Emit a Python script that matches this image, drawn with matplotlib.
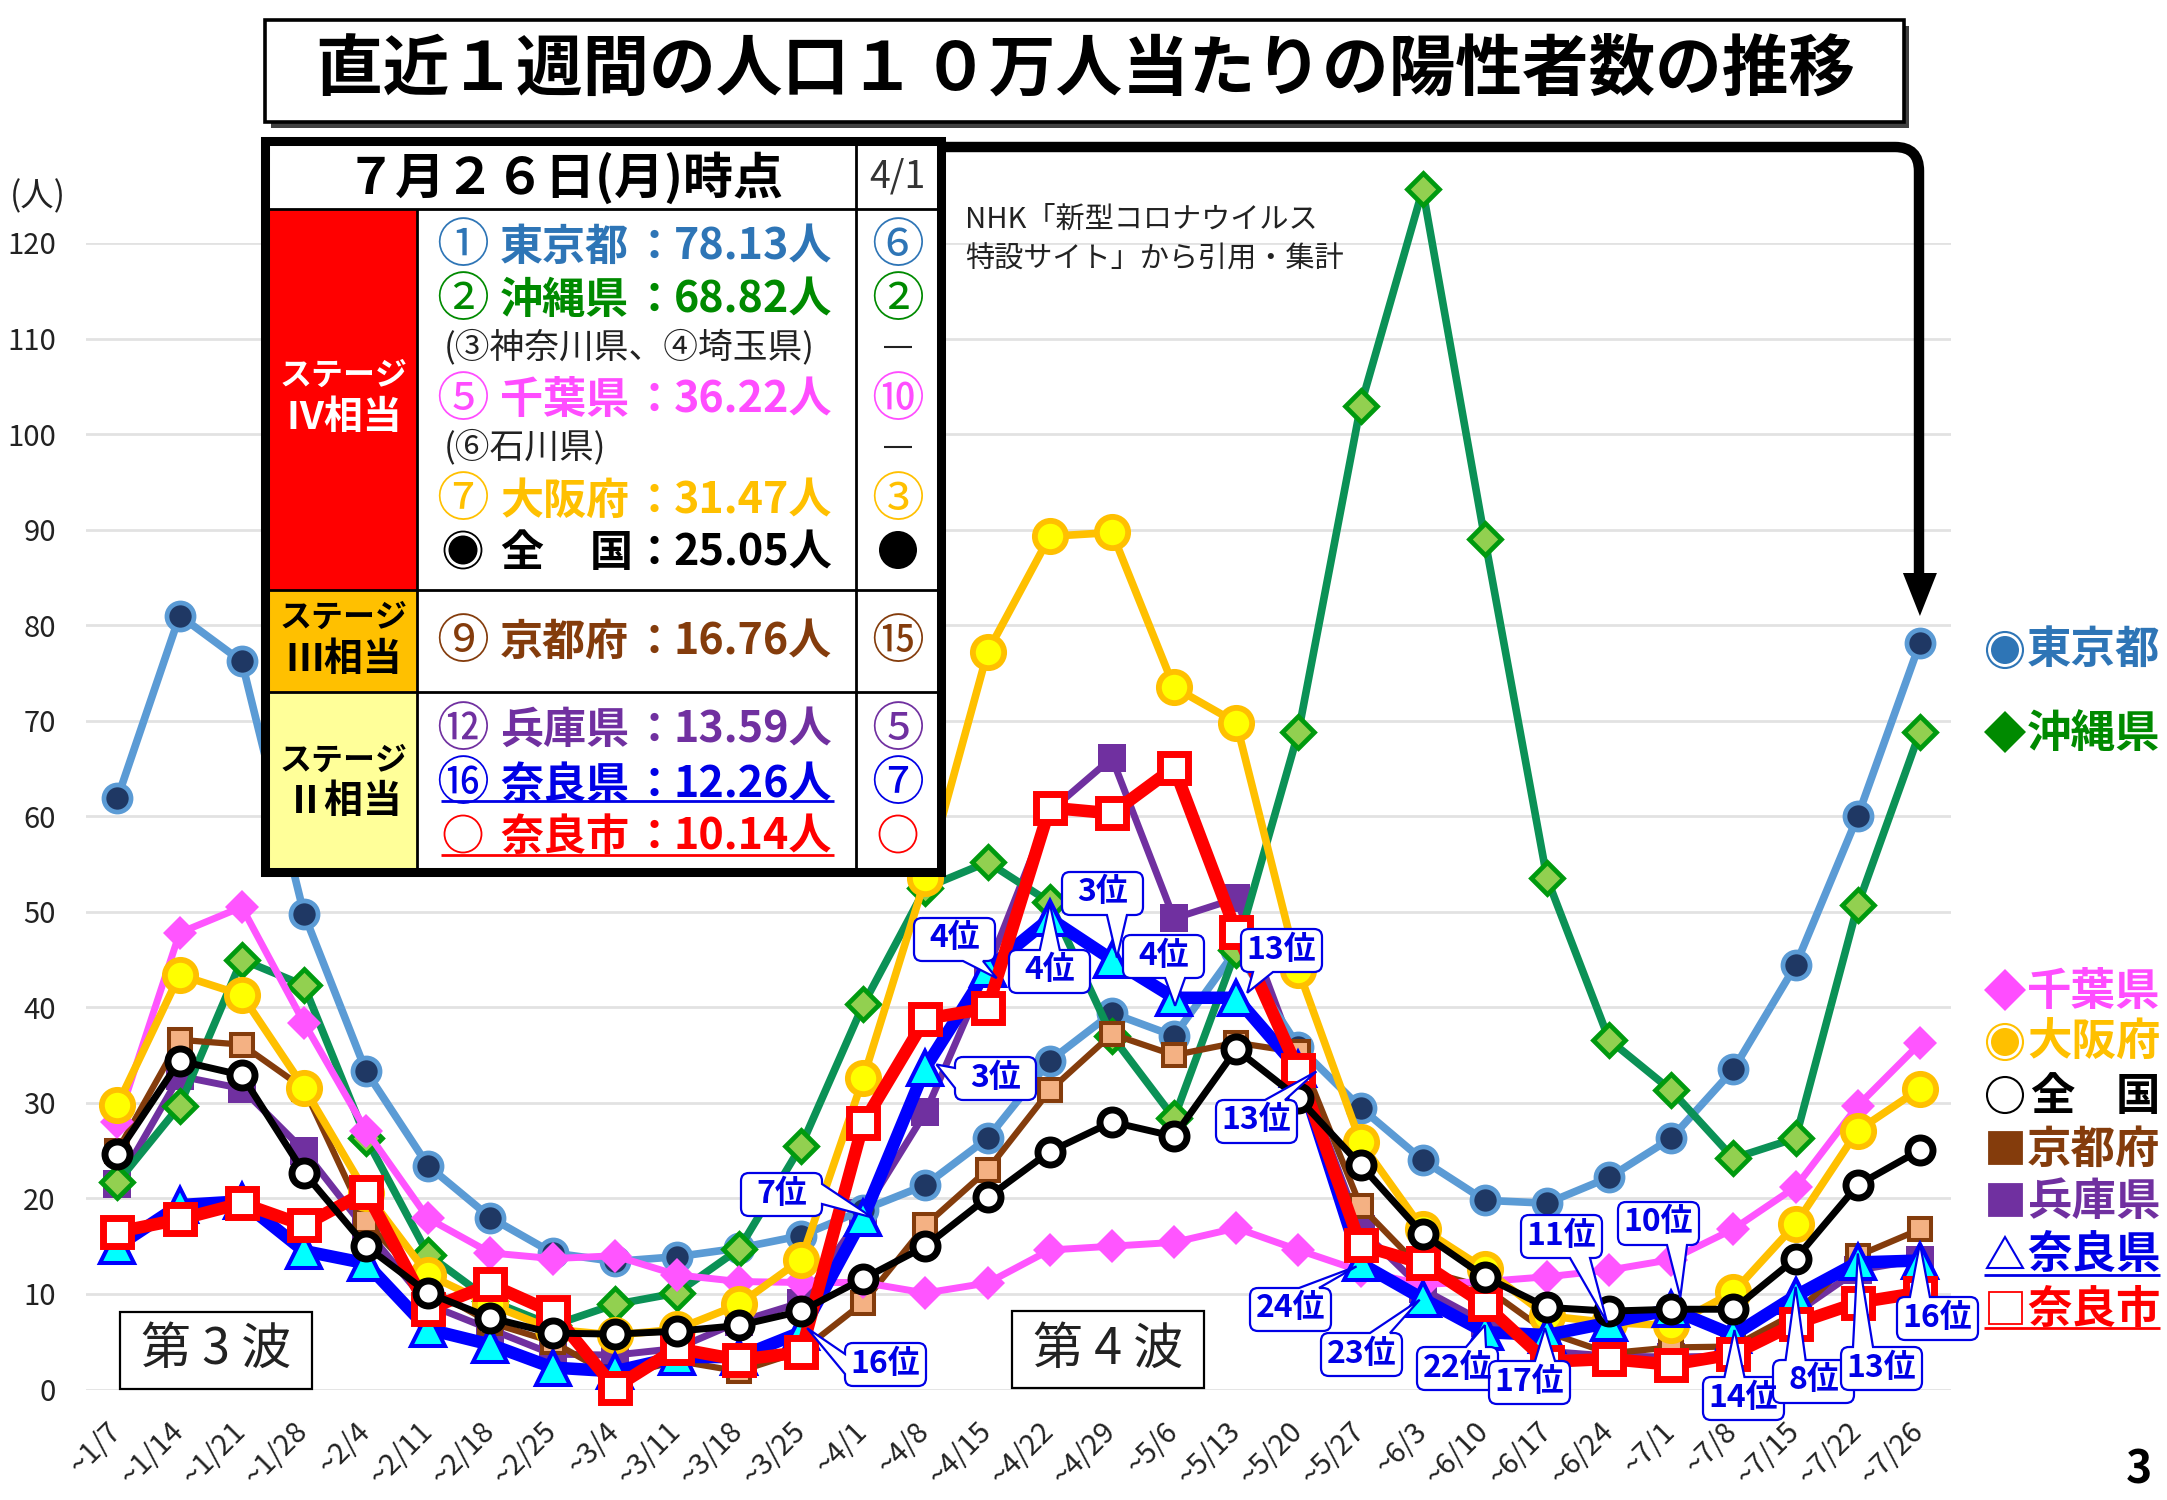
import matplotlib
matplotlib.use('Agg')
import matplotlib.pyplot as plt
from matplotlib.patches import Rectangle, Circle, Polygon, PathPatch
from matplotlib.path import Path

plt.rcParams['font.family'] = ['Noto Sans CJK JP', 'DejaVu Sans']

weeks = ['~1/7', '~1/14', '~1/21', '~1/28', '~2/4', '~2/11', '~2/18', '~2/25', '~3/4', '~3/11',
         '~3/18', '~3/25', '~4/1', '~4/8', '~4/15', '~4/22', '~4/29', '~5/6', '~5/13', '~5/20',
         '~5/27', '~6/3', '~6/10', '~6/17', '~6/24', '~7/1', '~7/8', '~7/15', '~7/22', '~7/26']

tokyo = [61.9, 81.0, 76.2, 49.8, 33.3, 23.4, 18.0, 14.3, 13.4, 13.9, 14.8, 16.1, 18.8, 21.4, 26.3,
         34.4, 39.4, 37.0, 46.0, 35.9, 29.5, 24.0, 19.8, 19.5, 22.2, 26.3, 33.5, 44.4, 60.0, 78.13]
okinawa = [21.7, 29.7, 45.0, 42.3, 26.3, 14.1, 9.3, 6.7, 8.9, 10.1, 14.7, 25.5, 40.3, 52.5, 55.2,
           51.0, 37.0, 28.4, 46.0, 68.8, 102.9, 125.6, 89.0, 53.5, 36.6, 31.3, 24.2, 26.3, 50.7, 68.82]
chiba = [28.0, 47.8, 50.5, 38.4, 27.1, 17.9, 14.3, 13.7, 14.0, 12.0, 11.3, 11.2, 11.2, 10.1, 11.15,
         14.6, 15.0, 15.4, 16.9, 14.6, 12.4, 11.0, 11.3, 11.8, 12.5, 13.6, 16.8, 21.2, 29.7, 36.22]
osaka = [29.8, 43.4, 41.3, 31.6, 20.6, 12.0, 8.9, 6.3, 5.7, 6.3, 8.9, 13.6, 32.6, 53.5, 77.2,
         89.3, 89.7, 73.5, 69.8, 43.9, 25.9, 16.8, 12.6, 7.7, 7.0, 6.7, 10.2, 17.3, 27.1, 31.47]
kyoto = [25.0, 36.6, 36.1, 31.5, 17.6, 10.6, 7.0, 5.0, 1.3, 3.0, 1.9, 4.0, 9.1, 17.2, 23.0,
         31.3, 37.2, 35.0, 36.3, 35.3, 19.2, 12.5, 10.7, 6.0, 3.8, 4.4, 4.5, 8.0, 14.0, 16.76]
hyogo = [21.5, 32.8, 31.5, 25.0, 16.7, 8.9, 6.3, 3.7, 3.6, 4.3, 7.1, 9.1, 18.5, 29.0, 44.0,
         60.5, 66.1, 49.3, 51.4, 34.0, 16.8, 10.5, 7.0, 4.0, 3.5, 3.4, 3.5, 8.0, 12.5, 13.59]
nara_pref = [15.0, 19.3, 19.7, 14.5, 13.2, 6.3, 4.7, 2.3, 1.9, 3.4, 3.4, 6.0, 18.0, 33.7, 44.0,
             49.3, 45.0, 41.0, 41.0, 33.5, 13.2, 9.5, 6.0, 5.7, 7.0, 8.4, 5.7, 9.8, 13.3, 13.5]
nara_city = [16.5, 17.8, 19.5, 17.2, 20.7, 8.4, 11.0, 8.1, 0.2, 4.3, 3.1, 3.9, 27.9, 38.8, 39.9,
             60.9, 60.3, 65.1, 47.9, 33.4, 15.1, 13.2, 8.9, 2.9, 3.2, 2.6, 3.7, 6.9, 9.1, 10.14]
national = [24.7, 34.4, 32.9, 22.7, 15.0, 10.1, 7.5, 5.9, 5.8, 6.1, 6.7, 8.2, 11.6, 15.0, 20.1,
            24.9, 28.0, 26.5, 35.6, 30.5, 23.5, 16.3, 11.8, 8.6, 8.2, 8.4, 8.4, 13.7, 21.4, 25.05]

# rank callouts on the Nara pref line: label, week index, tip offset, box left/top in px
rank_callouts = [
    ('7位', 12, 9, 0, 741, 1173), ('16位', 11, 6, -4, 845, 1343), ('3位', 13, 11, -3, 955, 1057),
    ('4位', 14, 9, 9, 914, 918), ('4位', 15, 0, -15, 1009, 950), ('3位', 16, 5, -2, 1062, 872),
    ('4位', 17, 1, 8, 1123, 935), ('13位', 18, 11, -5, 1241, 929), ('13位', 19, 18, 2, 1216, 1100),
    ('24位', 20, -4, 3, 1250, 1288), ('23位', 21, -3, 1, 1321, 1333), ('22位', 22, 0, -7, 1417, 1347),
    ('17位', 23, -2, -7, 1489, 1361), ('11位', 24, -2, 0, 1521, 1215), ('10位', 25, 9, -12, 1618, 1202),
    ('14位', 26, 1, -5, 1703, 1377), ('8位', 27, 0, -9, 1773, 1360), ('13位', 28, 0, -9, 1841, 1347),
    ('16位', 29, 0, -17, 1897, 1297),
]

BLUE = '#2E75B6'
GREEN = '#008A00'
PINK = '#FF4DFF'
GOLD = '#FFC000'
BROWN = '#843C0C'
PURPLE = '#7030A0'
NAVY = '#0000E6'
RED = '#FF0000'

W, H = 2167, 1500
fig = plt.figure(figsize=(W / 100, H / 100), dpi=100, facecolor='white')
ax = fig.add_axes([86.4 / W, 1 - 1389.5 / H, (1951 - 86.4) / W, (1389.5 - 243) / H])
ax.set_xlim(-0.5, 29.5)
ax.set_ylim(0, 120)
ax.set_yticks(range(0, 130, 10))
ax.set_xticks(range(len(weeks)))
ax.set_xticklabels(weeks, rotation=45, ha='right', va='center', rotation_mode='anchor', fontsize=21, color='#222222')
ax.tick_params(axis='x', length=0, pad=27)
ax.tick_params(axis='y', length=0, pad=22, labelsize=21, labelcolor='#222222')
ax.grid(axis='y', color='#E2E2E2', lw=2)
ax.set_axisbelow(True)
for s in ax.spines.values():
    s.set_visible(False)

x = range(len(weeks))
def series(y, color, lw, marker, ms, face, edge, mew):
    ax.plot(x, y, color=color, lw=lw, marker=marker, ms=ms, mfc=face, mec=edge, mew=mew,
            clip_on=False, solid_joinstyle='miter')

series(hyogo, PURPLE, 5, 's', 19.5, PURPLE, PURPLE, 0)
series(tokyo, '#5B9BD5', 5.5, 'o', 19.5, '#1F3864', '#5B9BD5', 3.4)
series(okinawa, '#0B9156', 5.5, 'D', 16.5, '#92D050', '#009A0F', 3.4)
series(kyoto, BROWN, 4.5, 's', 16, '#F4B183', BROWN, 2.9)
series(chiba, '#FF55FF', 5, 'D', 17.5, '#FF55FF', '#FF55FF', 0)
series(osaka, GOLD, 5.5, 'o', 22.5, '#FFFF00', GOLD, 4.2)
series(nara_pref, '#0000FF', 9, '^', 25, '#00FFFF', '#0000FF', 2.9)
series(nara_city, RED, 9, 's', 19.5, 'white', RED, 5)
series(national, 'black', 5, 'o', 18, 'white', 'black', 5)

# overlay in pixel coordinates for the boxes and labels
ov = fig.add_axes([0, 0, 1, 1], facecolor='none')
ov.set_xlim(0, W)
ov.set_ylim(H, 0)
ov.axis('off')

def txt(px, py, s, size, color='black', weight='normal', ha='center', **kw):
    return ov.text(px, py, s, fontsize=size, color=color, fontweight=weight, ha=ha, va='center', **kw)

def rect(l, t, r, b, face='white', edge='black', lw=1.0, **kw):
    ov.add_patch(Rectangle((l, t), r - l, b - t, facecolor=face, edgecolor=edge, lw=lw, **kw))

def hline(x0, x1, y, color='black', lw=2.0):
    ov.plot([x0, x1], [y, y], color=color, lw=lw, solid_capstyle='butt')

def vline(px, y0, y1, color='black', lw=2.0):
    ov.plot([px, px], [y0, y1], color=color, lw=lw, solid_capstyle='butt')

# (人) and note
txt(38, 197, '(人)', 24, color='#222222')
txt(965, 220, 'NHK「新型コロナウイルス', 21, color='#222222', ha='left')
txt(965, 260, '特設サイト」から引用・集計', 21, color='#222222', ha='left')

# title
rect(271, 26, 1909, 128, face='#404040', edge='none')
rect(265, 20, 1904, 122, lw=2.6)
txt(1086, 70, '直近１週間の人口１\u200a０万人当たりの陽性者数の推移', 48, weight='bold')

# thick arrow to the last Tokyo point
arrow_x = ax.transData.transform((29, 0))[0] * 100 / fig.dpi
verts = [(930, 147), (1895, 147), (1919, 147), (1919, 171), (1919, 580)]
ov.add_patch(PathPatch(Path(verts, [Path.MOVETO, Path.LINETO, Path.CURVE3, Path.CURVE3, Path.LINETO]),
                       facecolor='none', edgecolor='black', lw=7.5, capstyle='butt'))
ov.add_patch(Polygon([(arrow_x - 17, 573), (arrow_x + 17, 573), (arrow_x, 616)], facecolor='black', edgecolor='none'))

# wave boxes
rect(120, 1312, 312, 1389, lw=1.6)
txt(216, 1350, '第 3 波', 36, color='#222222')
rect(1012, 1311, 1204, 1388, lw=1.6)
txt(1108, 1350, '第 4 波', 36, color='#222222')

# stage table
rect(265, 140, 942, 873, lw=0)
rect(269, 209, 417, 590, face='#FF0000', edge='none')
rect(269, 590, 417, 692, face='#FFC000', edge='none')
rect(269, 692, 417, 870, face='#FFFF99', edge='none')
rect(265, 141, 941, 872, face='none', lw=6.5)
for yy in (209, 590, 692):
    hline(269, 937, yy)
vline(417, 209, 870)
vline(856, 141, 870)

txt(565, 178, '７月２６日(月)時点', 36, weight='bold')
txt(897, 177, '4/1', 27, color='#333333')

txt(344, 376, 'ステージ', 23, color='white', weight='bold')
txt(344, 418, 'Ⅳ相当', 28, color='white', weight='bold')
txt(344, 618, 'ステージ', 23, weight='bold')
txt(344, 660, 'Ⅲ相当', 28, weight='bold')
txt(344, 761, 'ステージ', 23, weight='bold')
txt(344, 801, 'Ⅱ相当', 28, weight='bold')

table_rows = [
    (244, '①', '東京都', '78.13人', BLUE, '⑥'),
    (297, '②', '沖縄県', '68.82人', GREEN, '②'),
    (397, '⑤', '千葉県', '36.22人', PINK, '⑩'),
    (498, '⑦', '大阪府', '31.47人', GOLD, '③'),
    (639, '⑨', '京都府', '16.76人', BROWN, '⑮'),
    (727, '⑫', '兵庫県', '13.59人', PURPLE, '⑤'),
    (782, '⑯', '奈良県', '12.26人', NAVY, '⑦'),
]
for yy, rank, name, val, col, prev in table_rows:
    yy += 3
    txt(463, yy, rank, 38, color=col)
    txt(500, yy, name, 31, color=col, weight='bold', ha='left')
    txt(654, yy, '：', 31, color=col, weight='bold', ha='center')
    txt(832, yy, val, 31, color=col, weight='bold', ha='right')
    txt(898, yy, prev, 38, color=col)

# nara city row and the nation row use drawn circles
txt(500, 837, '奈良市', 31, color=RED, weight='bold', ha='left')
txt(654, 837, '：', 31, color=RED, weight='bold')
txt(832, 837, '10.14人', 31, color=RED, weight='bold', ha='right')
ov.add_patch(Circle((463, 834), 18.5, facecolor='none', edgecolor=RED, lw=1.3))
ov.add_patch(Circle((898, 834), 18.5, facecolor='none', edgecolor=RED, lw=1.3))
hline(441, 834, 801, color=NAVY, lw=2)
hline(441, 834, 855, color=RED, lw=2)

txt(500, 553, '全', 31, weight='bold', ha='left')
txt(590, 553, '国', 31, weight='bold', ha='left')
txt(654, 553, '：', 31, weight='bold')
txt(832, 553, '25.05人', 31, weight='bold', ha='right')
ov.add_patch(Circle((463, 550), 18.5, facecolor='none', edgecolor='black', lw=1.3))
ov.add_patch(Circle((463, 550), 14.5, facecolor='black', edgecolor='none'))
ov.add_patch(Circle((898, 550), 19, facecolor='black', edgecolor='none'))

txt(444, 347, '(③神奈川県、④埼玉県)', 25, color='#222222', ha='left')
txt(444, 447, '(⑥石川県)', 25, color='#222222', ha='left')
hline(884, 912, 347, color='#222222', lw=1.5)
hline(884, 912, 447, color='#222222', lw=1.5)

# right legend
LEG_X = 2005

def legend_ring(py, col):
    ov.add_patch(Circle((LEG_X, py), 18, facecolor='white', edgecolor=col, lw=1.5))
    ov.add_patch(Circle((LEG_X, py), 14, facecolor=col, edgecolor='none'))

def legend_diamond(py, col):
    ov.add_patch(Polygon([(LEG_X - 21, py), (LEG_X, py - 21), (LEG_X + 21, py), (LEG_X, py + 21)],
                         facecolor=col, edgecolor='none'))

def legend_square(py, face, edge):
    ov.add_patch(Rectangle((LEG_X - 16, py - 16), 33, 32, facecolor=face, edgecolor=edge, lw=1.3))

legend_ring(650, BLUE)
legend_diamond(732, GREEN)
legend_diamond(990, PINK)
legend_ring(1042, GOLD)
ov.add_patch(Circle((LEG_X, 1095), 18, facecolor='white', edgecolor='black', lw=1.5))
legend_square(1148, BROWN, BROWN)
legend_square(1200, PURPLE, PURPLE)
ov.add_patch(Polygon([(LEG_X - 18, 1268), (LEG_X, 1237), (LEG_X + 18, 1268)], facecolor='white', edgecolor=NAVY, lw=1.5))
legend_square(1308, 'white', RED)

legend_rows = [(650, '東京都', BLUE), (734, '沖縄県', GREEN), (992, '千葉県', PINK), (1043, '大阪府', GOLD),
               (1150, '京都府', BROWN), (1202, '兵庫県', PURPLE), (1255, '奈良県', NAVY), (1310, '奈良市', RED)]
for yy, name, col in legend_rows:
    txt(2094, yy, name, 32, color=col, weight='bold')
txt(2030, 1097, '全', 32, weight='bold', ha='left')
txt(2160, 1097, '国', 32, weight='bold', ha='right')
hline(1984, 2160, 1275, color=NAVY, lw=2)
hline(1984, 2160, 1328, color=RED, lw=2)

# page number
txt(2139, 1470, '3', 32, weight='bold')

def callout_path(l, t, r, b, tx, ty, rad=8, bw=10):
    dx = l - tx if tx < l else (tx - r if tx > r else 0)
    dy = t - ty if ty < t else (ty - b if ty > b else 0)
    m = rad + bw + 4
    bx = min(max(tx, l + m), r - m)
    by = min(max(ty, t + m), b - m)
    if dy * 1.5 >= dx:
        side = 'top' if ty < t else 'bottom'
    else:
        side = 'left' if tx < l else 'right'
    v = [(l + rad, t)]
    c = [Path.MOVETO]
    def add(pts, code=Path.LINETO):
        v.extend(pts)
        c.extend([code] * len(pts))
    if side == 'top':
        add([(bx - bw, t), (tx, ty), (bx + bw, t)])
    add([(r - rad, t)])
    add([(r, t), (r, t + rad)], Path.CURVE3)
    if side == 'right':
        add([(r, by - bw), (tx, ty), (r, by + bw)])
    add([(r, b - rad)])
    add([(r, b), (r - rad, b)], Path.CURVE3)
    if side == 'bottom':
        add([(bx + bw, b), (tx, ty), (bx - bw, b)])
    add([(l + rad, b)])
    add([(l, b), (l, b - rad)], Path.CURVE3)
    if side == 'left':
        add([(l, by + bw), (tx, ty), (l, by - bw)])
    add([(l, t + rad)])
    add([(l, t), (l + rad, t)], Path.CURVE3)
    return Path(v, c)

fig.canvas.draw()
for label, i, ox, oy, left, top in rank_callouts:
    # data point in display px, then flip to the overlay's y-down pixels
    dpx, dpy = ax.transData.transform((i, nara_pref[i]))
    tx, ty = dpx + ox, H - dpy + oy
    right, bottom = left + 81, top + 43
    ov.add_patch(PathPatch(callout_path(left, top, right, bottom, tx, ty), facecolor='white', edgecolor=NAVY,
                           lw=1.6, joinstyle='miter'))
    txt((left + right) / 2, (top + bottom) / 2 - 1, label, 23, color=NAVY, weight='bold')

fig.savefig('out.png', dpi=100)
